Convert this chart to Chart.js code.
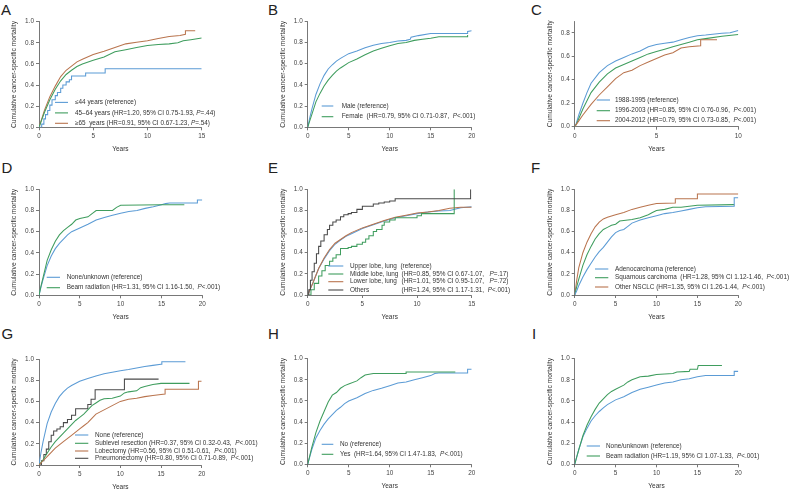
<!DOCTYPE html>
<html><head><meta charset="utf-8">
<script src="https://cdn.jsdelivr.net/npm/chart.js@4.4.1/dist/chart.umd.min.js"></script>
<style>
html,body{margin:0;padding:0;background:#fff;}
body{width:800px;height:494px;position:relative;overflow:hidden;font-family:"Liberation Sans",Arial,sans-serif;}
canvas{position:absolute;}
.lbl{position:absolute;font-size:15px;color:#222;line-height:16px;}
</style></head><body>
<div class="lbl" style="left:1px;top:1.5px">A</div>
<div class="lbl" style="left:268px;top:1.5px">B</div>
<div class="lbl" style="left:531px;top:1.5px">C</div>
<div class="lbl" style="left:1.5px;top:159.5px">D</div>
<div class="lbl" style="left:268px;top:160px">E</div>
<div class="lbl" style="left:531px;top:159.5px">F</div>
<div class="lbl" style="left:1.5px;top:325.5px">G</div>
<div class="lbl" style="left:268px;top:325.5px">H</div>
<div class="lbl" style="left:532px;top:325.5px">I</div>
<canvas id="cA"></canvas><canvas id="cB"></canvas><canvas id="cC"></canvas>
<canvas id="cD"></canvas><canvas id="cE"></canvas><canvas id="cF"></canvas>
<canvas id="cG"></canvas><canvas id="cH"></canvas><canvas id="cI"></canvas>
<script>
// ---------- tick values ----------
const yTicks10 = [0, 0.2, 0.4, 0.6, 0.8, 1.0];
const yTicks08 = [0, 0.2, 0.4, 0.6, 0.8];
const xTicks15 = [0, 5, 10, 15];
const xTicks20 = [0, 5, 10, 15, 20];
const xTicks10 = [0, 5, 10];
const yTitle = 'Cumulative cancer-specific mortality';
const xTitle = 'Years';

// ---------- A: age ----------
const A_labels = ['≤44 years (reference)', '45–64 years (HR=1.20, 95% CI 0.75-1.93, P=.44)', '≥65  years (HR=0.91, 95% CI 0.67-1.23, P=.54)'];
const A_le44 = [[0,0],[0.25,0.03],[0.45,0.08],[0.6,0.12],[0.8,0.16],[1.0,0.21],[1.2,0.26],[1.5,0.30],[1.7,0.33],[2.0,0.37],[2.2,0.40],[2.5,0.43],[2.8,0.45],[3.0,0.485],[4.3,0.515],[6.1,0.555],[15,0.555]];
const A_45_64 = [[0,0],[0.25,0.07],[0.5,0.14],[1,0.26],[1.5,0.36],[2,0.44],[2.5,0.50],[3,0.54],[3.5,0.575],[4,0.60],[5,0.635],[6,0.665],[7,0.715],[8,0.735],[9,0.755],[10,0.775],[11,0.785],[12,0.79],[12.8,0.80],[13.3,0.82],[14,0.83],[15,0.845]];
const A_ge65 = [[0,0],[0.25,0.08],[0.5,0.16],[1,0.29],[1.5,0.39],[2,0.48],[2.5,0.54],[3,0.58],[3.5,0.62],[4,0.645],[5,0.69],[6,0.72],[7,0.755],[8,0.79],[9,0.805],[10,0.82],[11,0.84],[12,0.86],[13,0.87],[13.5,0.88],[13.5,0.915],[14.4,0.915]];

// ---------- B: sex ----------
const B_labels = ['Male (reference)', 'Female  (HR=0.79, 95% CI 0.71-0.87,  P<.001)'];
const B_male = [[0,0],[0.25,0.09],[0.5,0.17],[1,0.31],[1.5,0.41],[2,0.49],[2.5,0.55],[3,0.59],[3.5,0.625],[4,0.65],[5,0.695],[6,0.72],[7,0.75],[8,0.775],[9,0.79],[10,0.80],[11,0.815],[12,0.82],[12.5,0.83],[12.6,0.85],[13.5,0.865],[15,0.885],[19.5,0.885],[19.5,0.905],[20,0.91]];
const B_female = [[0,0],[0.25,0.06],[0.5,0.12],[1,0.24],[1.5,0.32],[2,0.39],[2.5,0.445],[3,0.49],[3.5,0.53],[4,0.56],[5,0.61],[6,0.645],[7,0.685],[8,0.72],[9,0.745],[10,0.77],[11,0.79],[12,0.80],[13,0.82],[14,0.83],[15,0.84],[16,0.855],[19.5,0.855],[19.5,0.87]];

// ---------- C: year of diagnosis ----------
const C_labels = ['1988-1995 (reference)', '1996-2003 (HR=0.85, 95% CI 0.76-0.96,  P<.001)', '2004-2012 (HR=0.79, 95% CI 0.73-0.85,  P<.001)'];
const C_1988 = [[0,0],[0.1,0.03],[0.25,0.1],[0.5,0.2],[0.75,0.29],[1,0.37],[1.5,0.46],[2,0.52],[2.5,0.56],[3,0.59],[3.5,0.62],[4,0.645],[4.5,0.68],[5,0.70],[5.5,0.71],[6,0.72],[6.5,0.74],[7,0.76],[7.5,0.775],[8,0.78],[9,0.795],[9.5,0.80],[10,0.82]];
const C_1996 = [[0,0],[0.1,0.02],[0.25,0.07],[0.5,0.15],[1,0.29],[1.5,0.38],[2,0.45],[2.5,0.50],[3,0.53],[3.5,0.56],[4,0.59],[4.5,0.62],[5,0.64],[5.5,0.66],[6,0.68],[6.5,0.70],[7,0.72],[7.5,0.74],[8,0.75],[9,0.77],[10,0.785]];
const C_2004 = [[0,0],[0.1,0.02],[0.25,0.05],[0.5,0.10],[1,0.19],[1.5,0.27],[2,0.34],[2.5,0.41],[3,0.46],[3.5,0.48],[4,0.52],[4.5,0.55],[5,0.58],[5.5,0.61],[6,0.63],[6.5,0.67],[7,0.68],[7.7,0.69],[7.7,0.74],[8.7,0.74]];

// ---------- D: radiation ----------
const D_labels = ['None/unknown (reference)', 'Beam radiation (HR=1.31, 95% CI 1.16-1.50,  P<.001)'];
const D_none = [[0,0],[0.25,0.08],[0.5,0.15],[1,0.28],[1.5,0.37],[2,0.44],[2.5,0.49],[3,0.53],[3.5,0.57],[4,0.60],[5,0.635],[6,0.67],[7,0.71],[8,0.735],[9,0.755],[10,0.775],[11,0.79],[12,0.80],[13,0.82],[14,0.835],[15,0.855],[15.5,0.865],[16,0.87],[19.4,0.87],[19.4,0.90],[20,0.90]];
const D_beam = [[0,0],[0.25,0.09],[0.5,0.17],[1,0.33],[1.5,0.43],[2,0.51],[2.5,0.57],[3,0.61],[3.5,0.64],[4,0.67],[4.5,0.71],[5,0.725],[6,0.74],[6.5,0.77],[7,0.80],[9,0.80],[9.5,0.83],[10,0.85],[15,0.855],[17.8,0.855]];

// ---------- E: primary site ----------
const E_names = ['Upper lobe, lung  (reference)', 'Middle lobe, lung', 'Lower lobe, lung', 'Others'];
const E_details = ['', '(HR=0.85, 95% CI 0.67-1.07,   P=.17)', '(HR=1.01, 95% CI 0.95-1.07,   P=.72)', '(HR=1.24, 95% CI 1.17-1.31,  P<.001)'];
const E_upper = [[0,0],[0.25,0.06],[0.5,0.12],[1,0.25],[1.5,0.34],[2,0.42],[2.5,0.48],[3,0.52],[3.5,0.555],[4,0.58],[5,0.63],[6,0.665],[7,0.70],[8,0.73],[9,0.75],[10,0.77],[11,0.785],[12,0.795],[13,0.80],[14,0.825],[15,0.835]];
const E_middle = [[0,0],[0.3,0.05],[0.6,0.11],[1,0.18],[1.3,0.23],[1.6,0.28],[2,0.32],[2.3,0.35],[2.6,0.38],[3,0.44],[3.7,0.45],[4,0.46],[4.5,0.48],[5,0.50],[5.3,0.53],[5.6,0.56],[6,0.60],[6.3,0.62],[6.8,0.66],[7,0.69],[7.5,0.71],[8,0.73],[10,0.75],[10.4,0.77],[13.4,0.77],[13.4,1.0]];
const E_lower = [[0,0],[0.25,0.06],[0.5,0.12],[1,0.25],[1.5,0.35],[2,0.43],[2.5,0.49],[3,0.525],[3.5,0.56],[4,0.59],[5,0.635],[6,0.67],[7,0.705],[8,0.735],[9,0.755],[10,0.775],[11,0.785],[12,0.80],[13,0.82],[14,0.83],[15,0.83]];
const E_others = [[0,0],[0.1,0.05],[0.25,0.14],[0.4,0.22],[0.6,0.30],[0.8,0.39],[1,0.46],[1.2,0.51],[1.5,0.57],[1.8,0.62],[2,0.66],[2.3,0.69],[2.6,0.71],[3,0.74],[3.3,0.76],[3.7,0.77],[4,0.78],[4.5,0.81],[5,0.84],[6,0.86],[6.5,0.87],[7,0.88],[7.5,0.89],[8,0.91],[14.9,0.91],[14.9,1.0]];

// ---------- F: histology ----------
const F_labels = ['Adenocarcinoma (reference)', 'Squamous carcinoma  (HR=1.28, 95% CI 1.12-1.46,  P<.001)', 'Other NSCLC (HR=1.35, 95% CI 1.26-1.44,  P<.001)'];
const F_adeno = [[0,0],[0.25,0.04],[0.5,0.09],[1,0.17],[1.5,0.24],[2,0.30],[2.5,0.36],[3,0.41],[3.5,0.45],[4,0.50],[4.5,0.55],[5,0.59],[5.5,0.61],[6,0.62],[6.5,0.65],[7,0.68],[8,0.71],[9,0.73],[10,0.75],[11,0.77],[12,0.78],[13,0.795],[14,0.81],[15,0.825],[16,0.835],[19.5,0.84],[19.5,0.92],[20,0.92]];
const F_squam = [[0,0],[0.25,0.08],[0.5,0.15],[1,0.28],[1.5,0.38],[2,0.46],[2.5,0.53],[3,0.58],[3.5,0.62],[4,0.64],[4.5,0.66],[5,0.67],[5.5,0.70],[6,0.705],[7,0.715],[8,0.73],[9,0.76],[9.5,0.78],[10,0.80],[11,0.81],[12,0.83],[13,0.83],[15,0.85],[19.5,0.855]];
const F_other = [[0,0],[0.25,0.14],[0.5,0.26],[1,0.40],[1.5,0.50],[2,0.58],[2.5,0.645],[3,0.69],[3.5,0.72],[4,0.735],[5,0.76],[6,0.78],[7,0.81],[8,0.83],[9,0.85],[10,0.865],[12.3,0.87],[12.3,0.91],[15,0.91],[15,0.955],[20,0.955]];

// ---------- G: surgery ----------
const G_labels = ['None (reference)', 'Sublevel resection (HR=0.37, 95% CI 0.32-0.43,  P<.001)', 'Lobectomy (HR=0.56, 95% CI 0.51-0.61,  P<.001)', 'Pneumonectomy (HR=0.80, 95% CI 0.71-0.89,  P<.001)'];
const G_none = [[0,0],[0.25,0.12],[0.5,0.22],[1,0.39],[1.5,0.50],[2,0.58],[2.5,0.645],[3,0.69],[3.5,0.725],[4,0.75],[5,0.79],[6,0.815],[7,0.84],[8,0.86],[9,0.875],[10,0.89],[11,0.90],[12,0.915],[13,0.93],[14,0.94],[15,0.95],[15.1,0.975],[18,0.975]];
const G_sub = [[0,0],[0.5,0.05],[1,0.11],[1.5,0.17],[2,0.22],[2.5,0.26],[3,0.30],[3.5,0.34],[4,0.38],[4.5,0.42],[5,0.45],[5.5,0.48],[6,0.52],[6.5,0.56],[7,0.585],[7.5,0.61],[8,0.625],[9,0.63],[10,0.65],[10.5,0.68],[11,0.69],[12,0.70],[12.5,0.73],[13,0.74],[14,0.76],[15,0.77],[18.5,0.77]];
const G_lob = [[0,0],[0.5,0.04],[1,0.08],[1.5,0.12],[2,0.16],[3,0.22],[4,0.28],[5,0.34],[5.5,0.37],[6,0.40],[6.5,0.44],[7,0.48],[8,0.52],[9,0.56],[10,0.60],[11,0.62],[12,0.63],[13,0.645],[14,0.655],[15,0.665],[15.5,0.67],[15.5,0.715],[19.6,0.715],[19.6,0.79],[20,0.79]];
const G_pneu = [[0,0],[0.3,0.04],[0.6,0.10],[0.9,0.15],[1.2,0.22],[1.5,0.28],[1.8,0.32],[2.2,0.34],[2.6,0.36],[3,0.40],[3.5,0.43],[4,0.47],[4.5,0.53],[6,0.53],[6,0.57],[6.4,0.62],[6.9,0.71],[10.5,0.71],[10.5,0.81],[14.7,0.81]];

// ---------- H: chemotherapy ----------
const H_labels = ['No (reference)', 'Yes  (HR=1.64, 95% CI 1.47-1.83,  P<.001)'];
const H_no = [[0,0],[0.25,0.07],[0.5,0.14],[1,0.25],[1.5,0.32],[2,0.38],[2.5,0.43],[3,0.47],[3.5,0.51],[4,0.54],[4.5,0.575],[5,0.60],[6,0.63],[7,0.67],[8,0.70],[9,0.72],[10,0.745],[11,0.77],[12,0.78],[13,0.80],[14,0.82],[15,0.84],[15.5,0.86],[16,0.865],[19.5,0.865],[19.5,0.90],[20,0.90]];
const H_yes = [[0,0],[0.25,0.08],[0.5,0.16],[1,0.30],[1.5,0.41],[2,0.50],[2.5,0.59],[3,0.655],[3.5,0.68],[4,0.72],[4.5,0.745],[5,0.76],[6,0.79],[6.5,0.82],[7,0.845],[8,0.86],[12,0.86],[12,0.875],[18,0.875]];

// ---------- I: radiation ----------
const I_labels = ['None/unknown (reference)', 'Beam radiation (HR=1.19, 95% CI 1.07-1.33,  P<.001)'];
const I_none = [[0,0],[0.25,0.07],[0.5,0.14],[1,0.26],[1.5,0.34],[2,0.41],[2.5,0.46],[3,0.50],[3.5,0.535],[4,0.565],[5,0.61],[6,0.64],[7,0.68],[8,0.71],[9,0.73],[10,0.75],[11,0.77],[12,0.78],[13,0.80],[14,0.81],[15,0.83],[16,0.84],[19.5,0.84],[19.5,0.88],[20,0.88]];
const I_beam = [[0,0],[0.25,0.07],[0.5,0.14],[1,0.27],[1.5,0.37],[2,0.45],[2.5,0.52],[3,0.58],[3.5,0.62],[4,0.66],[4.5,0.69],[5,0.71],[6,0.75],[6.5,0.78],[7,0.80],[8,0.83],[9,0.835],[10,0.85],[11,0.855],[12,0.86],[12.5,0.875],[14,0.88],[14.1,0.90],[15,0.90],[15.1,0.935],[18,0.935]];

// ---------- styles ----------
const COL = {blue:'#5b9bd5', green:'#3f9d5e', brown:'#b9744e', gray:'#4a4a4a'};
const FONT = '"Liberation Sans", Arial, sans-serif';
const FS = 6.4;
const AXC = '#555';

const panels = [
  {id:'cA', canvas:[0,0,262,160], area:[39,21.7,201.7,127.3], xMax:15, yMax:1, xT:xTicks15, yT:yTicks10,
   series:[[A_le44,'blue',true],[A_45_64,'green',false],[A_ge65,'brown',false]],
   legend:{line:[55,68], text:75, rows:[102.4,112.9,123.3], names:A_labels, colors:['blue','green','brown']}},
  {id:'cB', canvas:[262,0,270,160], area:[307.7,21.3,471.7,127.3], xMax:20, yMax:1, xT:xTicks20, yT:yTicks10,
   series:[[B_female,'green',false],[B_male,'blue',false]],
   legend:{line:[321.7,333.3], text:341.7, rows:[106,116.7], names:B_labels, colors:['blue','green']}},
  {id:'cC', canvas:[528,0,272,160], area:[574.7,21,738.3,126.7], xMax:10, yMax:0.9, xT:xTicks10, yT:yTicks08,
   series:[[C_2004,'brown',false],[C_1996,'green',false],[C_1988,'blue',false]],
   legend:{line:[596.7,610], text:615, rows:[100,110.7,120.7], names:C_labels, colors:['blue','green','brown']}},
  {id:'cD', canvas:[0,158,262,162], area:[39,189.3,202.3,295.3], xMax:20, yMax:1, xT:xTicks20, yT:yTicks10,
   series:[[D_beam,'green',false],[D_none,'blue',false]],
   legend:{line:[46.7,60], text:66.7, rows:[277.3,287.7], names:D_labels, colors:['blue','green']}},
  {id:'cE', canvas:[262,158,270,162], area:[307.7,189.3,471.7,295], xMax:15, yMax:1, xT:xTicks15, yT:yTicks10,
   series:[[E_others,'gray',true],[E_middle,'green',true],[E_lower,'brown',false],[E_upper,'blue',false]],
   legend:{line:[328.3,343.3], text:350, detail:401.5, rows:[266,274,281.7,290], names:E_names, details:E_details, colors:['blue','green','brown','gray']}},
  {id:'cF', canvas:[528,158,272,162], area:[574.7,189.3,738.3,295], xMax:20, yMax:1, xT:xTicks20, yT:yTicks10,
   series:[[F_adeno,'blue',false],[F_squam,'green',false],[F_other,'brown',false]],
   legend:{line:[595,608.3], text:615, rows:[269,277.7,287], names:F_labels, colors:['blue','green','brown']}},
  {id:'cG', canvas:[0,318,262,176], area:[39,359,201.7,465], xMax:20, yMax:1, xT:xTicks20, yT:yTicks10,
   series:[[G_lob,'brown',false],[G_sub,'green',false],[G_pneu,'gray',true],[G_none,'blue',false]],
   legend:{line:[75,88.3], text:95, rows:[435,443.3,451,458.3], names:G_labels, colors:['blue','green','brown','gray']}},
  {id:'cH', canvas:[262,318,270,176], area:[307.7,358.7,471.7,464.3], xMax:20, yMax:1, xT:xTicks20, yT:yTicks10,
   series:[[H_yes,'green',false],[H_no,'blue',false]],
   legend:{line:[321.7,333.3], text:340, rows:[444.3,454.3], names:H_labels, colors:['blue','green']}},
  {id:'cI', canvas:[528,318,272,176], area:[574.7,358.7,738.3,464.3], xMax:20, yMax:1, xT:xTicks20, yT:yTicks10,
   series:[[I_beam,'green',false],[I_none,'blue',false]],
   legend:{line:[586.7,600], text:606, rows:[446,456], names:I_labels, colors:['blue','green']}}
];

function drawRich(ctx, s, x, y) {
  const m = s.match(/^(.*)P([=<].*)$/);
  const parts = m ? [[m[1], false], ['P', true], [m[2], false]] : [[s, false]];
  for (const [t, it] of parts) {
    ctx.font = (it ? 'italic ' : '') + FS + 'px ' + FONT;
    ctx.fillText(t, x, y);
    x += ctx.measureText(t).width;
  }
}

function legendPlugin(p) {
  return {
    id: 'kmLegend',
    afterDraw(chart) {
      const ctx = chart.ctx, ox = p.canvas[0], oy = p.canvas[1], L = p.legend;
      ctx.save();
      ctx.textBaseline = 'middle';
      ctx.fillStyle = '#333';
      L.names.forEach((name, i) => {
        const y = L.rows[i] - oy;
        ctx.strokeStyle = COL[L.colors[i]];
        ctx.lineWidth = 1.1;
        ctx.beginPath();
        ctx.moveTo(L.line[0] - ox, y);
        ctx.lineTo(L.line[1] - ox, y);
        ctx.stroke();
        drawRich(ctx, name, L.text - ox, y);
        if (L.details && L.details[i]) drawRich(ctx, L.details[i], L.detail - ox, y);
      });
      ctx.restore();
    }
  };
}

function makeChart(p) {
  const cv = document.getElementById(p.id);
  const [cx, cy, cw, ch] = p.canvas;
  cv.width = cw; cv.height = ch;
  cv.style.left = cx + 'px'; cv.style.top = cy + 'px';
  cv.style.width = cw + 'px'; cv.style.height = ch + 'px';
  const pad = {left: 10, top: 10, right: 30, bottom: 2};
  const datasets = p.series.map(([pts, c, st]) => ({
    data: pts.map(([x, y]) => ({x, y})),
    borderColor: COL[c], backgroundColor: COL[c],
    borderWidth: 1.05, pointRadius: 0, fill: false, stepped: st, tension: 0
  }));
  const tickFont = {family: FONT, size: 6.4};
  const chart = new Chart(cv, {
    type: 'line',
    data: {datasets},
    options: {
      responsive: false, animation: false, devicePixelRatio: 1,
      layout: {padding: pad},
      plugins: {legend: {display: false}, tooltip: {enabled: false}},
      scales: {
        x: {
          type: 'linear', min: 0, max: p.xMax,
          afterBuildTicks: s => { s.ticks = p.xT.map(v => ({value: v})); },
          ticks: {font: tickFont, color: '#444', padding: 2.5, maxRotation: 0, callback: v => String(v)},
          grid: {display: true, drawOnChartArea: false, drawTicks: true, tickLength: 3, color: AXC, lineWidth: 0.8},
          border: {display: true, color: AXC, width: 0.8},
          title: {display: true, text: xTitle, font: {family: FONT, size: 6.5}, color: '#333', padding: {top: 2.5, bottom: 0}}
        },
        y: {
          type: 'linear', min: 0, max: p.yMax,
          afterBuildTicks: s => { s.ticks = p.yT.map(v => ({value: v})); },
          ticks: {font: tickFont, color: '#444', padding: 2, callback: v => Number(v).toFixed(1)},
          grid: {display: true, drawOnChartArea: false, drawTicks: true, tickLength: 3, color: AXC, lineWidth: 0.8},
          border: {display: true, color: AXC, width: 0.8},
          title: {display: true, text: yTitle, font: {family: FONT, size: 6.7}, color: '#333', padding: {top: 2, bottom: 5}}
        }
      }
    },
    plugins: [legendPlugin(p)]
  });
  const t = [p.area[0] - cx, p.area[1] - cy, p.area[2] - cx, p.area[3] - cy];
  for (let k = 0; k < 4; k++) {
    const ca = chart.chartArea;
    const dl = t[0] - ca.left, dt = t[1] - ca.top, dr = ca.right - t[2], db = ca.bottom - t[3];
    if (Math.abs(dl) + Math.abs(dt) + Math.abs(dr) + Math.abs(db) < 0.05) break;
    pad.left += dl; pad.top += dt; pad.right += dr; pad.bottom += db;
    chart.update('none');
  }
  return chart;
}

panels.forEach(makeChart);
</script>
</body></html>
